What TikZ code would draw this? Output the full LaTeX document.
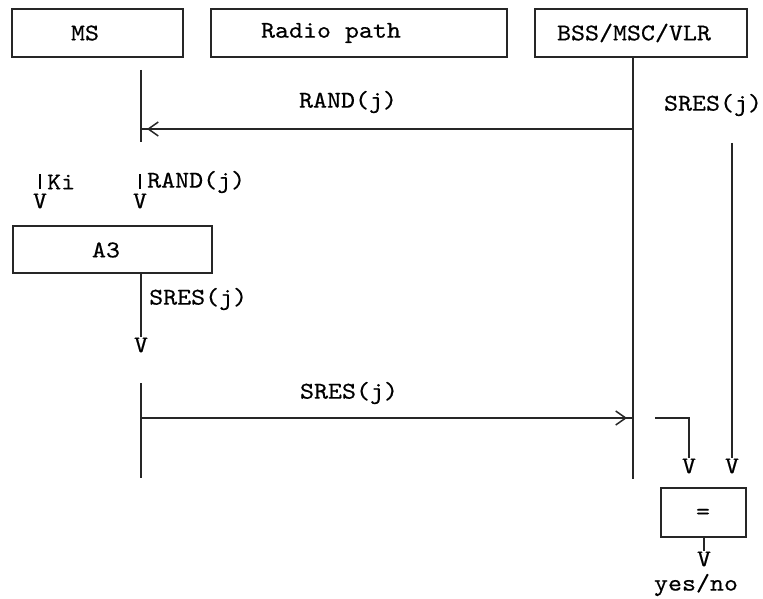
\documentclass[tikz,border=0pt]{standalone}
\usepackage{fontspec}
\newfontfamily\cour{lmmono10-regular}[Extension=.otf,FakeStretch=1.11,FakeBold=0.5]
\usetikzlibrary{arrows.meta,decorations.markings}
\begin{document}
\begin{tikzpicture}[x=1pt,y=-1pt,
  txt/.style={font=\fontsize{24}{24}\selectfont\cour, inner sep=0pt, text=black},
  box/.style={draw=black!85, line width=1.6pt, inner sep=0pt, rectangle},
  ln/.style={draw=black!85, line width=1.6pt},
  bar/.style={draw=black, line width=1.7pt},
  msg/.style={ln, postaction={decorate}, decoration={markings,
      mark=at position -6pt with {\arrow{Straight Barb[length=10pt,width=14pt,line width=1.5pt]}}}}]
\useasboundingbox (0,0) rectangle (763,599);
% header boxes
\node[box, minimum width=171pt, minimum height=48pt] (msbox) at (97.5,33) {};
\node[txt] (mslbl) at (85,33) {MS};
\node[box, minimum width=296pt, minimum height=48pt] (radiobox) at (359,33) {};
\node[txt] (radiolbl) at (331,33) {Radio path};
\node[box, minimum width=212pt, minimum height=48pt] (bssbox) at (641,33) {};
\node[txt] (bsslbl) at (634,33) {BSS/MSC/VLR};
% lifelines
\coordinate (msA) at (141,70);
\coordinate (msB) at (141,142);
\coordinate (msC) at (141,383);
\coordinate (msD) at (141,478);
\coordinate (bssA) at (633,57);
\coordinate (bssB) at (633,479);
\draw[ln] (msA) -- (msB);
\draw[ln] (msC) -- (msD);
\draw[ln] (bssA) -- (bssB);
% RAND message
\coordinate (randR) at (633,129);
\coordinate (randL) at (141,129);
\draw[msg] (randR) -- (randL);
\node[txt] (randlbl) at (348,102) {RAND(j)};
% A3 inputs
\node[txt, anchor=west] (kilbl) at (47,182) {Ki};
\node[txt, anchor=west] (rand2lbl) at (147,182) {RAND(j)};
\node[txt] (vki) at (40,201) {V};
\node[txt] (vrand) at (140,201) {V};
\coordinate (kibar) at (40,174);
\coordinate (randbar) at (140,174);
\draw[bar] (kibar) -- ++(0,15);
\draw[bar] (randbar) -- ++(0,15);
% A3 box
\node[box, minimum width=199pt, minimum height=47pt] (a3) at (112.5,249.5) {};
\node[txt] (a3lbl) at (106,250) {A3};
\node[txt] (vsres) at (141,345) {V};
\coordinate (a3out) at (141,273);
\draw[ln] (a3out) -- (vsres.north);
\node[txt, anchor=west] (sres1lbl) at (149,299) {SRES(j)};
% SRES message
\coordinate (sresL) at (141,418);
\coordinate (sresR) at (633,418);
\draw[msg] (sresL) -- (sresR);
\node[txt] (sres2lbl) at (349,393) {SRES(j)};
% right side
\node[txt] (sres3lbl) at (713,105) {SRES(j)};
\coordinate (rtop) at (732,143);
\node[txt] (vright) at (732,466) {V};
\draw[ln] (rtop) -- (vright.north);
\coordinate (bendA) at (655,418);
\node[txt] (vbend) at (689,466) {V};
\draw[ln] (bendA) -| (vbend.north);
% compare box
\node[box, minimum width=85pt, minimum height=49pt] (eqbox) at (703.5,512.5) {};
\node[txt] (eqlbl) at (703,514) {=};
\node[txt] (vout) at (704,559) {V};
\draw[ln] (vout.north |- eqbox.south) -- (vout.north);
\node[txt] (yesno) at (696,585) {yes/no};
\end{tikzpicture}
\end{document}
